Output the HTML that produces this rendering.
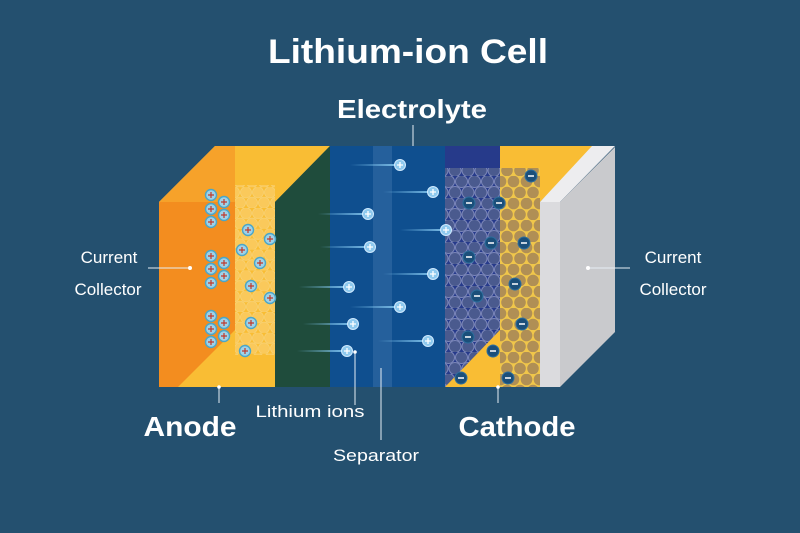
<!DOCTYPE html>
<html><head><meta charset="utf-8"><style>
html,body{margin:0;padding:0;background:#24506f;}
svg{display:block}
text{font-family:"Liberation Sans",sans-serif;fill:#fff}
</style></head><body>
<svg width="800" height="533" viewBox="0 0 800 533" xmlns="http://www.w3.org/2000/svg">
<defs>
<pattern id="hexA" width="12" height="20.8" patternUnits="userSpaceOnUse">
<circle cx="6" cy="5.2" r="5.5" fill="#fbd37a" stroke="#f7e2a8" stroke-width="0.8"/>
<circle cx="0" cy="15.6" r="5.5" fill="#fbd37a" stroke="#f7e2a8" stroke-width="0.8"/>
<circle cx="12" cy="15.6" r="5.5" fill="#fbd37a" stroke="#f7e2a8" stroke-width="0.8"/>
</pattern>
<pattern id="circG" width="13" height="22" patternUnits="userSpaceOnUse">
<circle cx="6.5" cy="5.5" r="6" fill="#4a5a8e" stroke="#7b86b8" stroke-width="1"/>
<circle cx="0" cy="16.5" r="6" fill="#4a5a8e" stroke="#7b86b8" stroke-width="1"/>
<circle cx="13" cy="16.5" r="6" fill="#4a5a8e" stroke="#7b86b8" stroke-width="1"/>
</pattern>
<pattern id="circT" width="13" height="22" patternUnits="userSpaceOnUse">
<rect width="13" height="22" fill="#f0c64a"/>
<circle cx="6.5" cy="5.5" r="5.8" fill="#b08f55"/>
<circle cx="0" cy="16.5" r="5.8" fill="#b08f55"/>
<circle cx="13" cy="16.5" r="5.8" fill="#b08f55"/>
</pattern>
<linearGradient id="streak" x1="0" x2="1">
<stop offset="0" stop-color="#7cc3ee" stop-opacity="0"/>
<stop offset="1" stop-color="#8dcff5" stop-opacity="0.9"/>
</linearGradient>
<g id="plus"><circle r="5.5" fill="#8ec9ee" stroke="#cfeaff" stroke-width="1"/><path d="M-3 0H3M0 -3V3" stroke="#fff" stroke-width="1.3"/></g>
<g id="aplus"><circle r="5.5" fill="#9fd2e8" stroke="#4aa6c8" stroke-width="1.4"/><path d="M-3 0H3M0 -3V3" stroke="#c0392b" stroke-width="1.2"/></g>
<g id="minus"><circle r="6" fill="#1b4f7a" stroke="#2d6f9e" stroke-width="1"/><path d="M-3 0H3" stroke="#fff" stroke-width="1.5"/></g>
</defs>

<text x="408" y="63" text-anchor="middle" font-size="34" font-weight="bold" textLength="280" lengthAdjust="spacingAndGlyphs">Lithium-ion Cell</text>
<text x="412" y="118" text-anchor="middle" font-size="26" font-weight="bold" textLength="150" lengthAdjust="spacingAndGlyphs">Electrolyte</text>

<polygon points="159,202 215,146 330,146 275,202" fill="#f9bd34"/>
<polygon points="159,202 215,146 235,146 235,202" fill="#f6a22a"/>
<rect x="159" y="202" width="116" height="185" fill="#f9bd34"/>
<polygon points="159,202 235,202 235,330 178,387 159,387" fill="#f38d1f"/>
<rect x="235" y="185" width="40" height="170" fill="url(#hexA)" opacity="0.55"/>
<polygon points="275,202 330,146 330,387 275,387" fill="#1f4c3c"/>
<rect x="330" y="146" width="115" height="241" fill="#0f4f8f"/>
<rect x="373" y="146" width="19" height="241" fill="#2a649f" opacity="0.8"/>
<rect x="445" y="146" width="55" height="241" fill="#263a8a"/>
<rect x="445" y="168" width="55" height="219" fill="url(#circG)"/>
<polygon points="445,387 500,387 500,330" fill="#f9bd34"/>
<polygon points="500,146 595,146 540,202 500,202" fill="#f9bd34"/>
<rect x="500" y="168" width="40" height="219" fill="url(#circT)"/>
<polygon points="540,202 592,146 615,146 560,202" fill="#ededef"/>
<rect x="540" y="202" width="20" height="185" fill="#dbdbde"/>
<polygon points="560,202 615,147 615,332 560,387" fill="#c9cacd"/>

<g>
<rect x="350" y="164" width="50" height="2" fill="url(#streak)"/><use href="#plus" x="400" y="165"/>
<rect x="383" y="191" width="50" height="2" fill="url(#streak)"/><use href="#plus" x="433" y="192"/>
<rect x="318" y="213" width="50" height="2" fill="url(#streak)"/><use href="#plus" x="368" y="214"/>
<rect x="400" y="229" width="45" height="2" fill="url(#streak)"/><use href="#plus" x="446" y="230"/>
<rect x="320" y="246" width="50" height="2" fill="url(#streak)"/><use href="#plus" x="370" y="247"/>
<rect x="383" y="273" width="50" height="2" fill="url(#streak)"/><use href="#plus" x="433" y="274"/>
<rect x="299" y="286" width="50" height="2" fill="url(#streak)"/><use href="#plus" x="349" y="287"/>
<rect x="350" y="306" width="50" height="2" fill="url(#streak)"/><use href="#plus" x="400" y="307"/>
<rect x="303" y="323" width="50" height="2" fill="url(#streak)"/><use href="#plus" x="353" y="324"/>
<rect x="378" y="340" width="50" height="2" fill="url(#streak)"/><use href="#plus" x="428" y="341"/>
<rect x="297" y="350" width="50" height="2" fill="url(#streak)"/><use href="#plus" x="347" y="351"/>
</g>
<g>
<use href="#aplus" x="211" y="195"/><use href="#aplus" x="224" y="202"/><use href="#aplus" x="211" y="209"/><use href="#aplus" x="224" y="215"/><use href="#aplus" x="211" y="222"/>
<use href="#aplus" x="248" y="230"/><use href="#aplus" x="270" y="239"/><use href="#aplus" x="242" y="250"/><use href="#aplus" x="260" y="263"/>
<use href="#aplus" x="211" y="256"/><use href="#aplus" x="224" y="263"/><use href="#aplus" x="211" y="269"/><use href="#aplus" x="224" y="276"/><use href="#aplus" x="211" y="283"/>
<use href="#aplus" x="251" y="286"/><use href="#aplus" x="270" y="298"/>
<use href="#aplus" x="211" y="316"/><use href="#aplus" x="224" y="323"/><use href="#aplus" x="211" y="329"/><use href="#aplus" x="224" y="336"/><use href="#aplus" x="211" y="342"/>
<use href="#aplus" x="251" y="323"/><use href="#aplus" x="245" y="351"/>
</g>
<g>
<use href="#minus" x="531" y="176"/><use href="#minus" x="469" y="203"/><use href="#minus" x="499" y="203"/>
<use href="#minus" x="491" y="243"/><use href="#minus" x="524" y="243"/><use href="#minus" x="469" y="257"/>
<use href="#minus" x="515" y="284"/><use href="#minus" x="477" y="296"/><use href="#minus" x="522" y="324"/>
<use href="#minus" x="468" y="337"/><use href="#minus" x="493" y="351"/><use href="#minus" x="461" y="378"/><use href="#minus" x="508" y="378"/>
</g>

<g stroke="#e6eef5" stroke-width="1" fill="none">
<line x1="148" y1="268" x2="190" y2="268"/>
<line x1="588" y1="268" x2="630" y2="268"/>
<line x1="413" y1="125" x2="413" y2="146"/>
<line x1="219" y1="387" x2="219" y2="403"/>
<line x1="355" y1="352" x2="355" y2="405"/>
<line x1="381" y1="368" x2="381" y2="440"/>
<line x1="498" y1="387" x2="498" y2="403"/>
</g>
<g fill="#fff"><circle cx="190" cy="268" r="2"/><circle cx="588" cy="268" r="2"/><circle cx="219" cy="387" r="1.8"/><circle cx="355" cy="352" r="1.8"/><circle cx="498" cy="387" r="1.8"/></g>

<text x="109" y="263" text-anchor="middle" font-size="17">Current</text>
<text x="108" y="295" text-anchor="middle" font-size="17">Collector</text>
<text x="673" y="263" text-anchor="middle" font-size="17">Current</text>
<text x="673" y="295" text-anchor="middle" font-size="17">Collector</text>
<text x="190" y="436" text-anchor="middle" font-size="28" font-weight="bold" textLength="93" lengthAdjust="spacingAndGlyphs">Anode</text>
<text x="517" y="436" text-anchor="middle" font-size="28" font-weight="bold" textLength="117" lengthAdjust="spacingAndGlyphs">Cathode</text>
<text x="310" y="417" text-anchor="middle" font-size="17" textLength="109" lengthAdjust="spacingAndGlyphs">Lithium ions</text>
<text x="376" y="461" text-anchor="middle" font-size="17" textLength="86" lengthAdjust="spacingAndGlyphs">Separator</text>
</svg>
</body></html>
